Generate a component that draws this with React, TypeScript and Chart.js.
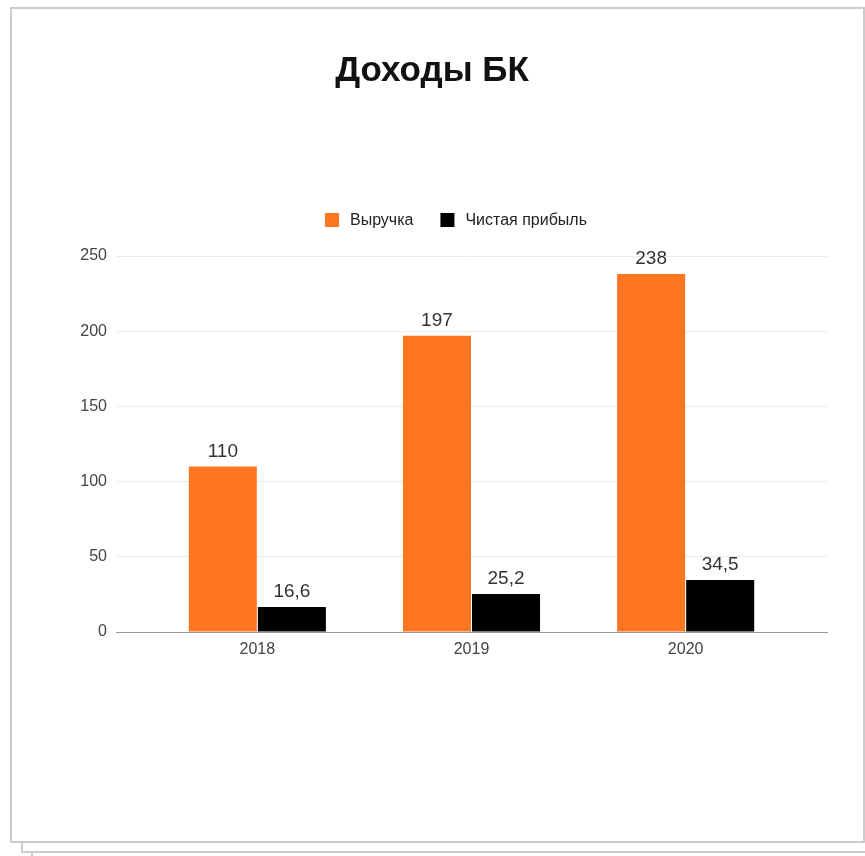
import React, { useEffect, useRef } from "react";
import { Chart, registerables } from "chart.js";

Chart.register(...registerables);

const title = "Доходы БК";
const years = ["2018", "2019", "2020"];
const seriesNames = ["Выручка", "Чистая прибыль"];
const revenue = [110, 197, 238];
const netProfit = [16.6, 25.2, 34.5];
const yTicks = [0, 50, 100, 150, 200, 250];
const colors = ["#ff7622", "#000000"];

const FONT = "'Liberation Sans', Arial, Helvetica, sans-serif";

const fmt = (v: number) => String(v).replace(".", ",");

const valueLabels = {
  id: "valueLabels",
  afterDatasetsDraw(chart: any) {
    const ctx = chart.ctx;
    ctx.save();
    ctx.font = `19px ${FONT}`;
    ctx.fillStyle = "#333333";
    ctx.textAlign = "center";
    ctx.textBaseline = "alphabetic";
    chart.data.datasets.forEach((ds: any, di: number) => {
      const meta = chart.getDatasetMeta(di);
      meta.data.forEach((el: any, i: number) => {
        ctx.fillText(fmt(ds.data[i].y), el.x, el.y - 10);
      });
    });
    ctx.restore();
  },
};

const customLegend = {
  id: "customLegend",
  afterDraw(chart: any) {
    const ctx = chart.ctx;
    ctx.save();
    ctx.font = `16px ${FONT}`;
    const box = 14;
    const textGap = 11;
    const itemGap = 27;
    const items = chart.data.datasets.map((ds: any) => ({
      label: ds.label,
      color: ds.backgroundColor,
      w: ctx.measureText(ds.label).width,
    }));
    const total =
      items.reduce((s: number, it: any) => s + box + textGap + it.w, 0) +
      itemGap * (items.length - 1);
    const cy = 220;
    let x = 456 - total / 2;
    items.forEach((it: any) => {
      ctx.fillStyle = it.color;
      ctx.fillRect(x, cy - box / 2, box, box);
      x += box + textGap;
      ctx.fillStyle = "#222222";
      ctx.textAlign = "left";
      ctx.textBaseline = "middle";
      ctx.fillText(it.label, x, cy + 1);
      x += it.w + itemGap;
    });
    ctx.restore();
  },
};

export default function App() {
  const ref = useRef<HTMLCanvasElement | null>(null);

  useEffect(() => {
    if (!ref.current) return;
    const chart = new Chart(ref.current, {
      type: "bar",
      data: {
        datasets: [
          {
            label: seriesNames[0],
            data: revenue.map((v, i) => ({ x: i, y: v })),
            backgroundColor: colors[0],
            borderWidth: 0,
          },
          {
            label: seriesNames[1],
            data: netProfit.map((v, i) => ({ x: i, y: v })),
            backgroundColor: colors[1],
            borderWidth: 0,
          },
        ],
      },
      options: {
        responsive: false,
        animation: false,
        events: [],
        categoryPercentage: 0.645,
        barPercentage: 0.985,
        layout: { padding: { left: 37, right: 38, top: 0, bottom: 184 } },
        plugins: {
          legend: { display: false },
          tooltip: { enabled: false },
          title: {
            display: true,
            text: title,
            color: "#111111",
            font: { family: FONT, size: 35, weight: "bold", lineHeight: 1.2 },
            padding: { top: 50, bottom: 164 },
          },
        },
        scales: {
          x: {
            type: "linear",
            min: -0.66,
            max: 2.66,
            offset: false,
            grid: { display: false, drawTicks: false },
            border: { display: true, color: "#9a9a9a", width: 1 },
            afterBuildTicks: (scale: any) => {
              scale.ticks = years.map((_, i) => ({ value: i }));
            },
            afterFit: (scale: any) => {
              scale.height = 40;
            },
            ticks: {
              callback: (v: any) => years[v] ?? "",
              font: { family: FONT, size: 16 },
              color: "#444444",
              padding: 8,
              maxRotation: 0,
              autoSkip: false,
            },
          },
          y: {
            min: 0,
            max: 250,
            afterBuildTicks: (scale: any) => {
              scale.ticks = yTicks.map((v) => ({ value: v }));
            },
            afterFit: (scale: any) => {
              scale.width = 79;
            },
            grid: {
              drawTicks: false,
              color: (c: any) => (c.tick && c.tick.value === 0 ? "rgba(0,0,0,0)" : "#ebebeb"),
              lineWidth: 1,
            },
            border: { display: false },
            ticks: {
              font: { family: FONT, size: 16 },
              color: "#444444",
              padding: 9,
            },
          },
        },
      } as any,
      plugins: [valueLabels, customLegend],
    });
    return () => chart.destroy();
  }, []);

  const layer = (left: number, top: number, width: number, height: number, z: number, bw: number) => (
    <div
      style={{
        position: "fixed",
        left,
        top,
        width,
        height,
        border: `${bw}px solid #cccccc`,
        background: "#ffffff",
        boxSizing: "border-box",
        zIndex: z,
      }}
    />
  );

  return (
    <div>
      <div style={{ position: "fixed", inset: 0, background: "#ffffff", zIndex: 0 }} />
      {layer(31, 40, 900, 900, 1, 2)}
      {layer(21, 20, 900, 833, 2, 2)}
      {layer(10, 7, 855, 836, 3, 2)}
      <canvas
        ref={ref}
        width={865}
        height={856}
        style={{ position: "fixed", left: 0, top: 0, width: 865, height: 856, zIndex: 4 }}
      />
    </div>
  );
}
